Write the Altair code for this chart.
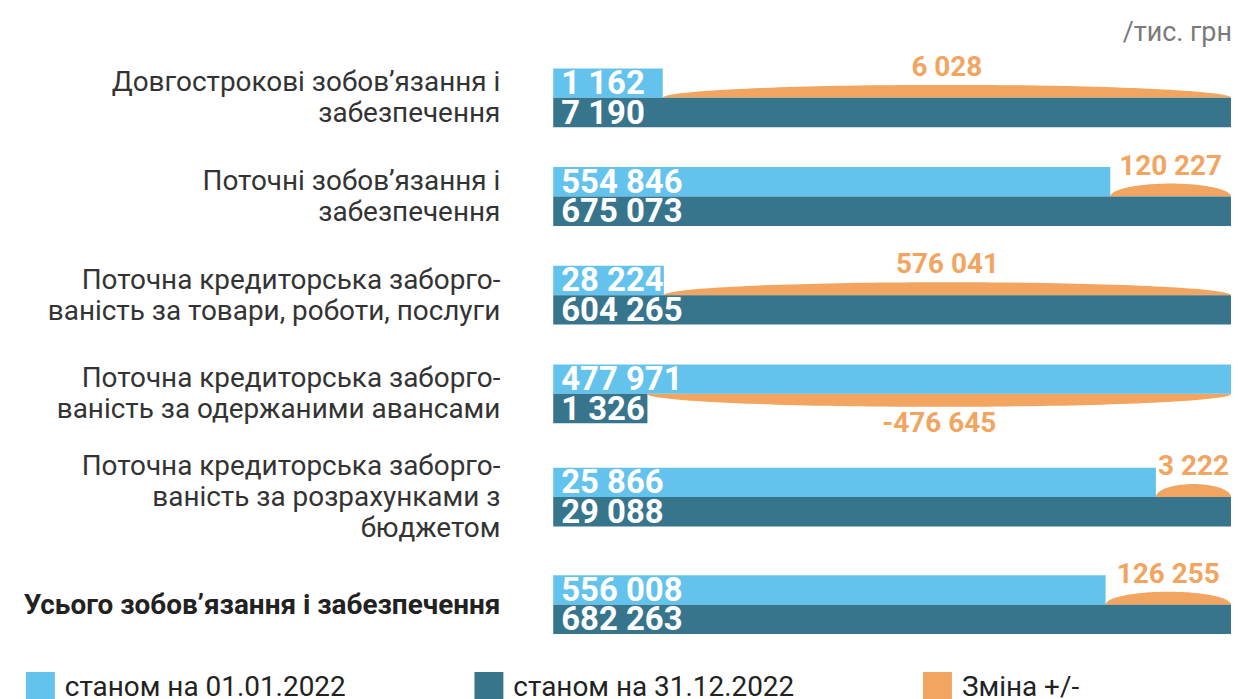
import altair as alt
import pandas as pd
import numpy as np

# ---------------- data ----------------
categories = [
    "Довгострокові зобов’язання і\nзабезпечення",
    "Поточні зобов’язання і\nзабезпечення",
    "Поточна кредиторська заборго-\nваність за товари, роботи, послуги",
    "Поточна кредиторська заборго-\nваність за одержаними авансами",
    "Поточна кредиторська заборго-\nваність за розрахунками з\nбюджетом",
    "Усього зобов’язання і забезпечення",
]
bold_rows = [False, False, False, False, False, True]
start_values = [1162, 554846, 28224, 477971, 25866, 556008]   # станом на 01.01.2022
end_values = [7190, 675073, 604265, 1326, 29088, 682263]      # станом на 31.12.2022
series_names = ["станом на 01.01.2022", "станом на 31.12.2022", "Зміна +/-"]
series_colors = ["#64C3EC", "#37758D", "#F1A560"]
unit_label = "/тис. грн"

# ---------------- layout ----------------
W, H = 1228, 691
X0, X1 = 547, 1227
FIRST = 89
BAR_H = 29.5
ARC_H = 13
FONT = "Roboto"
LINE_H = 31


def fmt(v):
    return f"{v:,}".replace(",", " ")


def min_share(label):
    # a bar is never drawn shorter than its own value label
    return (12 + 16.5 * len(label)) / (X1 - X0)


lines = [c.count("\n") + 1 for c in categories]
row_h = [99 + 9 * abs(n - 2) for n in lines]
bounds = [FIRST]
for i in range(1, len(categories)):
    bounds.append(bounds[-1] + (row_h[i - 1] + row_h[i]) / 2)

bar_rows, arc_rows, chg_rows, lab_rows = [], [], [], []
for i, (cat, v1, v2) in enumerate(zip(categories, start_values, end_values)):
    b = bounds[i]
    m = max(v1, v2)
    s1 = max(v1 / m, min_share(fmt(v1)))
    s2 = max(v2 / m, min_share(fmt(v2)))
    bar_rows.append(dict(row=i, series=series_names[0], x0=0, share=s1, ytop=b - BAR_H, ybot=b,
                         yc=b - BAR_H / 2 + 1, label=fmt(v1)))
    bar_rows.append(dict(row=i, series=series_names[1], x0=0, share=s2, ytop=b, ybot=b + BAR_H,
                         yc=b + BAR_H / 2 + 1, label=fmt(v2)))
    change = v2 - v1
    sign = 1 if change >= 0 else -1
    a = min(s1, s2)
    for t in np.linspace(0, np.pi, 81):
        arc_rows.append(dict(row=i, series=series_names[2],
                             ax=a + (1 - a) * (1 - np.cos(t)) / 2,
                             ay=b - sign * ARC_H * np.sin(t), ay2=b))
    chg_rows.append(dict(row=i, cx=(a + 1) / 2, cy=b - sign * 30, label=fmt(change)))
    lab_rows.append(dict(row=i, cat=cat, y=b + 1 - (lines[i] - 1) * LINE_H / 2, bold=bold_rows[i]))

bars = pd.DataFrame(bar_rows)
arcs = pd.DataFrame(arc_rows)
chg = pd.DataFrame(chg_rows)
labs = pd.DataFrame(lab_rows)
leg = pd.DataFrame(dict(series=series_names, i=range(len(series_names))))
leg["lx"] = 18 + 450 * leg["i"]
leg["lx2"] = leg["lx"] + 29
leg["tx"] = leg["lx"] + 39

xs = alt.Scale(domain=[0, 1], range=[X0, X1])
ys = alt.Scale(domain=[0, H], range=[0, H])
ps = alt.Scale(domain=[0, W], range=[0, W])
cs = alt.Scale(domain=series_names, range=series_colors)

arc_layer = alt.Chart(arcs).mark_area(orient="vertical", interpolate="linear").encode(
    x=alt.X("ax:Q", scale=xs, axis=None),
    y=alt.Y("ay:Q", scale=ys, axis=None),
    y2="ay2:Q",
    detail="row:N",
    color=alt.Color("series:N", scale=cs, legend=None),
)

bar_layer = alt.Chart(bars).mark_rect().encode(
    x=alt.X("x0:Q", scale=xs, axis=None),
    x2="share:Q",
    y=alt.Y("ytop:Q", scale=ys, axis=None),
    y2="ybot:Q",
    color=alt.Color("series:N", scale=cs, legend=None),
)

bar_text = alt.Chart(bars).mark_text(
    align="left", baseline="middle", dx=8, font=FONT, fontSize=33, fontWeight="bold", color="white"
).encode(
    x=alt.X("x0:Q", scale=xs, axis=None),
    y=alt.Y("yc:Q", scale=ys, axis=None),
    text="label:N",
)

chg_text = alt.Chart(chg).mark_text(
    align="center", baseline="middle", font=FONT, fontSize=28, fontWeight="bold", color=series_colors[2]
).encode(
    x=alt.X("cx:Q", scale=xs, axis=None),
    y=alt.Y("cy:Q", scale=ys, axis=None),
    text="label:N",
)

cat_regular = alt.Chart(labs).transform_filter("!datum.bold").mark_text(
    align="right", baseline="middle", lineBreak="\n", lineHeight=LINE_H,
    font=FONT, fontSize=28, color="#333333"
).encode(
    x=alt.value(494),
    y=alt.Y("y:Q", scale=ys, axis=None),
    text="cat:N",
)

cat_bold = alt.Chart(labs).transform_filter("datum.bold").mark_text(
    align="right", baseline="middle", lineBreak="\n", lineHeight=LINE_H,
    font=FONT, fontSize=28, fontWeight="bold", color="#222222"
).encode(
    x=alt.value(494),
    y=alt.Y("y:Q", scale=ys, axis=None),
    text="cat:N",
)

unit_text = alt.Chart(pd.DataFrame(dict(t=[unit_label]))).mark_text(
    align="right", baseline="middle", font=FONT, fontSize=27, color="#7a7a7a"
).encode(
    x=alt.value(1228),
    y=alt.value(24),
    text="t:N",
)

leg_rect = alt.Chart(leg).mark_rect().encode(
    x=alt.X("lx:Q", scale=ps, axis=None),
    x2="lx2:Q",
    y=alt.value(665),
    y2=alt.value(700),
    color=alt.Color("series:N", scale=cs, legend=None),
)

leg_text = alt.Chart(leg).mark_text(
    align="left", baseline="alphabetic", font=FONT, fontSize=28, color="#222222"
).encode(
    x=alt.X("tx:Q", scale=ps, axis=None),
    y=alt.value(689),
    text="series:N",
)

chart = alt.layer(
    arc_layer, bar_layer, bar_text, chg_text, cat_regular, cat_bold, unit_text, leg_rect, leg_text
).resolve_scale(
    x="independent"
).properties(
    width=W, height=H, padding=0, autosize=alt.AutoSizeParams(type="none"),
    background="white",
).configure_view(strokeWidth=0)

chart.save("out.html", embed_options={"renderer": "svg", "actions": False})
